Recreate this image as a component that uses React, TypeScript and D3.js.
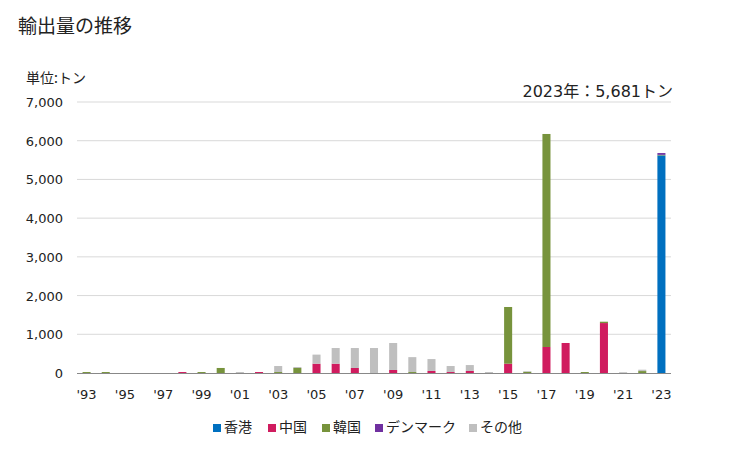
import React from "react";
import * as d3 from "d3";

const years = d3.range(1993, 2024).map(String);
const hongkong = [0,0,0,0,0,0,0,0,0,0,0,0,0,0,0,0,0,0,0,0,0,0,0,0,0,0,0,0,0,0,5620];
const china =    [0,0,0,0,0,25,0,0,0,25,0,0,240,240,130,0,78,0,52,25,52,0,240,0,672,775,0,1290,0,0,0];
const korea =    [25,25,0,0,0,0,25,130,0,0,25,130,0,0,0,0,0,25,0,0,0,0,1465,30,5502,0,25,35,0,50,15];
const denmark =  [0,0,0,0,0,0,0,0,0,0,0,0,0,0,0,0,0,0,0,0,0,0,0,0,0,0,0,0,0,0,46];
const others =   [0,0,0,0,0,0,0,0,25,0,155,25,235,405,515,645,697,385,308,155,153,25,0,18,0,0,0,0,20,35,0];
const yTicks = [0,1000,2000,3000,4000,5000,6000,7000];
const seriesNames = ["香港","中国","韓国","デンマーク","その他"];
const seriesColors = ["#0070c0","#d01c5f","#77933c","#7030a0","#bfbfbf"];

const FONT = "'DejaVu Sans', 'Noto Sans CJK JP', sans-serif";
const CJK = "'Noto Sans CJK JP', sans-serif";

export default function App() {
  const W = 729, H = 450;
  const left = 77, right = 671, top = 102, bottom = 373;
  const x = d3.scaleBand().domain(years).range([left, right]).paddingInner(0.58).paddingOuter(0.29);
  const y = d3.scaleLinear().domain([0, 7000]).range([bottom, top]);
  const seriesData = [hongkong, china, korea, denmark, others];
  const rows = years.map((yr, i) => {
    const r: any = { year: yr };
    seriesNames.forEach((n, k) => (r[n] = seriesData[k][i]));
    return r;
  });
  const stacked = d3.stack().keys(seriesNames)(rows);
  const fmt = d3.format(",");
  const legendX = [213, 268, 322, 375, 469];

  return (
    <svg width={W} height={H} style={{ position: "absolute", left: 0, top: 0, fontFamily: FONT }}>
      <rect width={W} height={H} fill="#fff" />
      <text x={18} y={33} fontSize={19} fill="#222" fontFamily={CJK}>輸出量の推移</text>
      <text x={26} y={83} fontSize={14} fill="#222" fontFamily={CJK}>単位:トン</text>
      <text x={673} y={97} fontSize={16} fill="#222" textAnchor="end">2023年：5,681トン</text>
      {yTicks.map((t) => (
        <g key={t}>
          {t > 0 && <line x1={left} x2={right} y1={y(t)} y2={y(t)} stroke="#d9d9d9" strokeWidth={1} />}
          <text x={63} y={y(t) + 5} fontSize={13} textAnchor="end" fill="#222">{fmt(t)}</text>
        </g>
      ))}
      {stacked.map((s, k) => (
        <g key={s.key} fill={seriesColors[k]}>
          {s.map((d, i) =>
            d[1] - d[0] > 0 ? (
              <rect key={i} x={x(years[i])} width={x.bandwidth()} y={y(d[1])} height={y(d[0]) - y(d[1])} />
            ) : null
          )}
        </g>
      ))}
      <line x1={left} x2={right} y1={bottom + 0.5} y2={bottom + 0.5} stroke="#888" strokeWidth={1} />
      {years.map((yr, i) =>
        i % 2 === 0 ? (
          <text key={yr} x={(x(yr) as number) + x.bandwidth() / 2} y={399} fontSize={13} textAnchor="middle" fill="#222">
            {"'" + yr.slice(2)}
          </text>
        ) : null
      )}
      {seriesNames.map((n, k) => (
        <g key={n}>
          <rect x={legendX[k]} y={424} width={8} height={8} fill={seriesColors[k]} />
          <text x={legendX[k] + 11} y={432} fontSize={14} fill="#222" fontFamily={CJK}>{n}</text>
        </g>
      ))}
    </svg>
  );
}
